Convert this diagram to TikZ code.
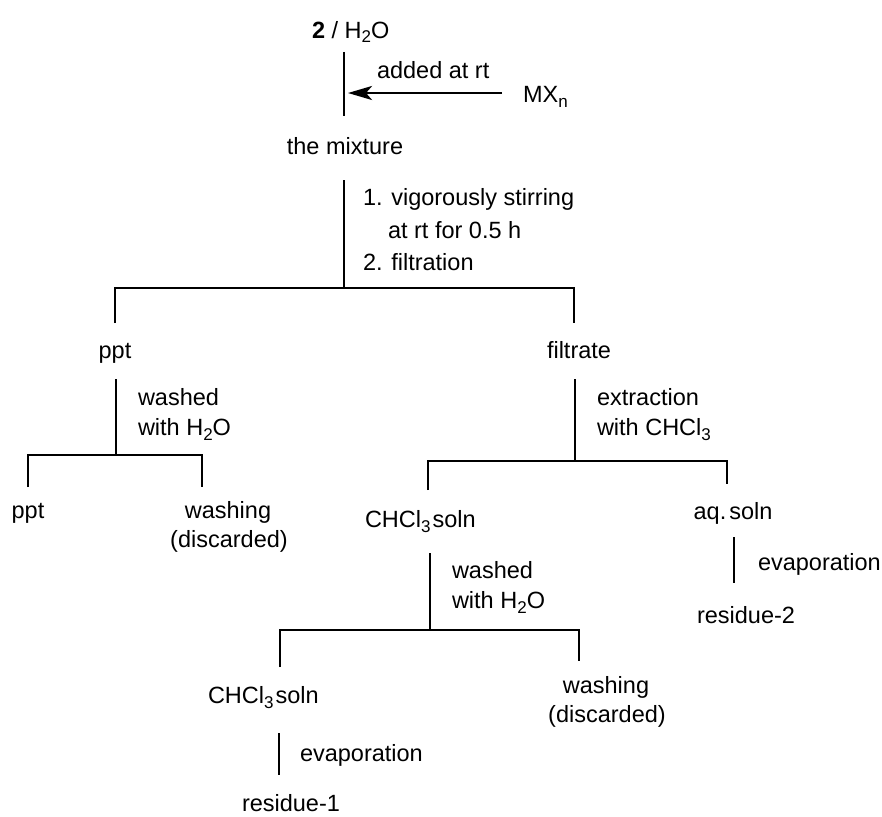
\documentclass[tikz,border=0pt]{standalone}
\usepackage{fontspec}
\setmainfont{Liberation Sans}
\usetikzlibrary{arrows.meta}
\newcommand\sbs[1]{\raisebox{-5pt}{\fontsize{17}{17}\selectfont #1}}
\begin{document}
\begin{tikzpicture}[x=1pt,y=-1pt,
  lbl/.style={inner sep=0pt, outer sep=0pt, font=\fontsize{23.5}{28}\selectfont},
  lw/.style={lbl, anchor=base west},
  lc/.style={lbl, anchor=base},
  bar/.style={line width=2.4pt, line join=miter},
  addarrow/.style={line width=2.6pt, -{Stealth[length=24pt,width=14pt,inset=6pt]}}]
\useasboundingbox (0,0) rectangle (882,816);

% texts
\node[lw] (start) at (312,38) {\textbf{2} / H\sbs{2}O};
\node[lw] (added) at (377,78) {added at rt};
\node[lw] (mx) at (523,102) {MX\sbs{n}};
\node[lc] (mix) at (345,154) {the mixture};
\node[lw] (s1) at (363,205) {1. vigorously stirring};
\node[lw] (s2) at (388,238) {at rt for 0.5 h};
\node[lw] (s3) at (363,270) {2. filtration};
\node[lc] (ppta) at (115,358) {ppt};
\node[lc] (filt) at (579,358) {filtrate};
\node[lw] (wa1) at (138,405) {washed};
\node[lw] (wa2) at (138,435) {with H\sbs{2}O};
\node[lw] (ex1) at (597,405) {extraction};
\node[lw] (ex2) at (597,435) {with CHCl\sbs{3}};
\node[lc] (pptb) at (28,518) {ppt};
\node[lc] (wsa1) at (228,518) {washing};
\node[lc] (wsa2) at (229,547) {(discarded)};
\node[lw] (chla) at (365,527) {CHCl\sbs{3}\hspace{2pt}soln};
\node[lc] (aq) at (733,519) {aq.\hspace{3pt}soln};
\node[lw] (wb1) at (452,578) {washed};
\node[lw] (wb2) at (452,608) {with H\sbs{2}O};
\node[lw] (eva) at (758,570) {evaporation};
\node[lc] (res2) at (746,623) {residue-2};
\node[lw] (chlb) at (208,703) {CHCl\sbs{3}\hspace{2pt}soln};
\node[lc] (wsb1) at (606,693) {washing};
\node[lc] (wsb2) at (607,722) {(discarded)};
\node[lw] (evb) at (300,761) {evaporation};
\node[lw] (res1) at (242,811) {residue-1};

% line end points
\coordinate (m0t) at (344,52);  \coordinate (m0b) at (344,116);
\coordinate (ar0) at (502,93);  \coordinate (ar1) at (348,93);
\coordinate (m1t) at (344,180); \coordinate (m1b) at (344,288);
\coordinate (l1a) at (115,323); \coordinate (l1b) at (115,288);
\coordinate (l1c) at (574,288); \coordinate (l1d) at (574,323);
\coordinate (p1t) at (116,379); \coordinate (p1b) at (116,455);
\coordinate (l2a) at (28,487);  \coordinate (l2b) at (28,455);
\coordinate (l2c) at (202,455); \coordinate (l2d) at (202,487);
\coordinate (f1t) at (575,379); \coordinate (f1b) at (575,461);
\coordinate (l3a) at (428,490); \coordinate (l3b) at (428,461);
\coordinate (l3c) at (727,461); \coordinate (l3d) at (727,484);
\coordinate (c1t) at (430,553); \coordinate (c1b) at (430,630);
\coordinate (l4a) at (280,667); \coordinate (l4b) at (280,630);
\coordinate (l4c) at (579,630); \coordinate (l4d) at (579,661);
\coordinate (a1t) at (734,537); \coordinate (a1b) at (734,583);
\coordinate (c2t) at (279,733); \coordinate (c2b) at (279,775);

% connectors
\draw[bar] (m0t) -- (m0b);
\draw[addarrow] (ar0) -- (ar1);
\draw[bar] (m1t) -- (m1b);
\draw[bar] (l1a) -- (l1b) -- (l1c) -- (l1d);
\draw[bar] (p1t) -- (p1b);
\draw[bar] (l2a) -- (l2b) -- (l2c) -- (l2d);
\draw[bar] (f1t) -- (f1b);
\draw[bar] (l3a) -- (l3b) -- (l3c) -- (l3d);
\draw[bar] (c1t) -- (c1b);
\draw[bar] (l4a) -- (l4b) -- (l4c) -- (l4d);
\draw[bar] (a1t) -- (a1b);
\draw[bar] (c2t) -- (c2b);
\end{tikzpicture}
\end{document}
